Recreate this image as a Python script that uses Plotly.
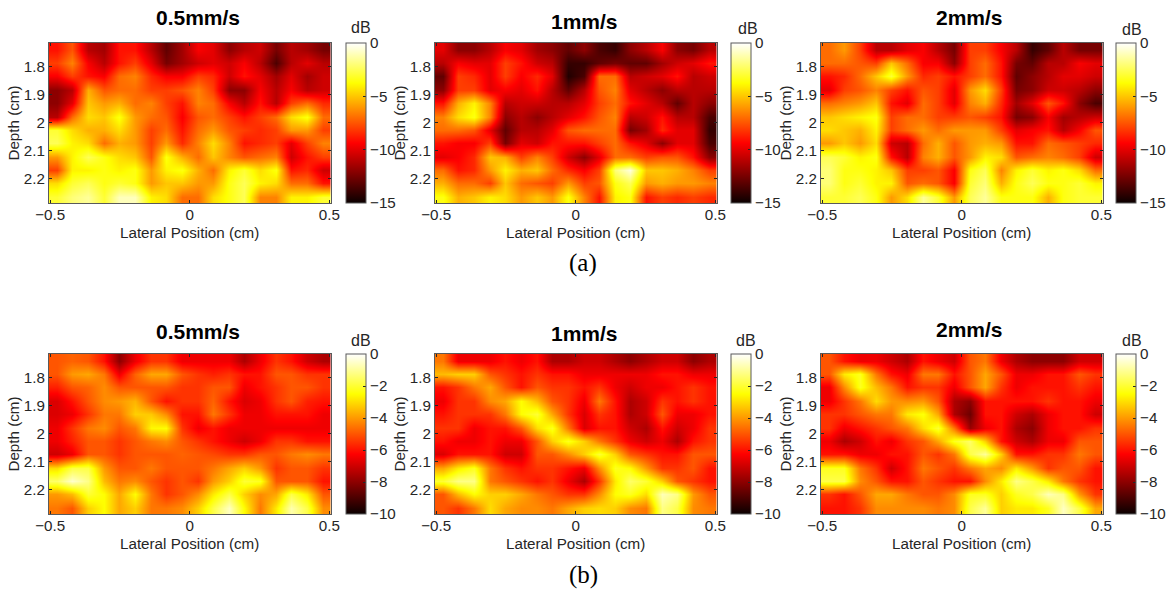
import plotly.graph_objects as go

W, H = 1171, 590

lateral = [-0.476, -0.42, -0.364, -0.308, -0.252, -0.196, -0.14, -0.084, -0.028,
           0.028, 0.084, 0.14, 0.196, 0.252, 0.308, 0.364, 0.42, 0.476]
depth = [1.738, 1.786, 1.834, 1.882, 1.93, 1.978, 2.026, 2.074, 2.122, 2.17, 2.218, 2.266]

x_tick_vals = [-0.5, 0, 0.5]
x_tick_text = ["\u22120.5", "0", "0.5"]
y_tick_vals = [1.8, 1.9, 2.0, 2.1, 2.2]
y_tick_text = ["1.8", "1.9", "2", "2.1", "2.2"]
titles = ["0.5mm/s", "1mm/s", "2mm/s"]
captions = ["(a)", "(b)"]

a_05 = [
 [-9,-7.5,-11,-11.5,-9,-9,-11,-13,-11.5,-9.5,-10,-12,-11,-10.5,-12.5,-11,-11.5,-12.5],
 [-8,-6.5,-9.5,-11,-9,-8,-10,-12.5,-11.5,-10.5,-10,-10.5,-9.5,-11,-13.5,-11,-10,-11],
 [-9.5,-8,-9,-9.5,-7,-6.5,-8.5,-9.5,-9.5,-8,-8.5,-10.5,-9,-10,-11.5,-10,-11.5,-10.5],
 [-12,-11,-5.5,-7.5,-7,-7,-8,-8,-7.5,-6.5,-8,-12,-12,-9.5,-11,-9.5,-11,-10.5],
 [-12,-10,-5,-6,-5.5,-7,-6.5,-8,-9,-6.5,-7,-9.5,-11,-9,-11,-8,-7,-8.5],
 [-11,-7,-4.5,-5,-3.5,-6,-7,-7.5,-9.5,-7.5,-7,-8,-9,-8,-7,-4.5,-3.5,-7],
 [-3,-4.5,-5.5,-5.5,-4.5,-6,-8,-7,-9,-7,-6,-7.5,-8,-8.5,-8,-6,-6,-8],
 [-2.5,-4,-4.5,-7,-5.5,-6,-8,-6,-8.5,-6.5,-4.5,-6.5,-9,-8.5,-8,-10,-8,-6.5],
 [-6,-4,-2.5,-3.5,-4.5,-5,-7.5,-3.5,-5.5,-7,-5,-6.5,-7.5,-7,-6.5,-10.5,-9,-8],
 [-8,-4,-4,-3.5,-4,-3.5,-6,-4,-3.5,-5.5,-7,-4,-3,-4.5,-3.5,-9,-8.5,-10.5],
 [-4.5,-3,-2.5,-3.5,-3,-3.5,-6,-5,-5,-6,-6,-3.5,-2.5,-4,-4.5,-7,-7,-9],
 [-3,-2,-1.5,-3,-1,-1,-4,-4.5,-7,-7,-4.5,-3.5,-2.5,-6.5,-6.5,-4,-4,-3],
]
a_1 = [
 [-10,-12,-12,-11,-9.5,-10,-11.5,-12,-13,-12,-13.5,-14,-12,-11,-9.5,-12,-12.5,-11],
 [-11,-9.5,-10,-10,-8,-9,-10.5,-11,-14,-14,-13,-12.5,-13,-13,-11.5,-10.5,-10,-9],
 [-13,-8,-8.5,-10,-8,-9.5,-8.5,-10,-14.5,-13.5,-7,-7,-11,-10.5,-10,-9,-11,-10.5],
 [-12,-8,-8,-10,-9.5,-10,-9,-11,-13,-11,-7.5,-6.5,-10,-11,-12,-11,-11,-11],
 [-9,-5.5,-4,-6.5,-11,-10.5,-10.5,-11,-11,-10,-8,-7,-9,-10,-11,-13,-11,-12],
 [-6.5,-4.5,-3.5,-6.5,-12,-11,-12,-11,-10,-9,-7.5,-6.5,-11,-10.5,-9,-11,-11,-13.5],
 [-7,-7,-7.5,-10,-13,-11,-11,-10,-7.5,-7,-7,-7,-12.5,-11.5,-8.5,-10,-10,-14],
 [-9,-9.5,-9.5,-8,-12.5,-10,-10.5,-9,-9,-9,-8,-7,-9,-10,-12,-10,-10,-13.5],
 [-10,-9.5,-8.5,-5,-5.5,-8,-6.5,-8,-10.5,-12,-10,-7,-7,-8,-7.5,-7.5,-9,-12],
 [-7,-9,-8.5,-6,-4,-5.5,-5,-7,-8.5,-9.5,-8,-2,-0.5,-5,-5,-5.5,-6.5,-8],
 [-5.5,-7,-7,-8,-5,-7,-7.5,-8,-6,-8,-7.5,-3.5,-2.5,-6,-5.5,-6,-6,-6.5],
 [-3.5,-5.5,-5,-4,-4.5,-6,-5,-6,-3.5,-6.5,-9,-4,-3.5,-9,-8,-8.5,-8,-8.5],
]
a_2 = [
 [-7,-6,-8,-11,-11,-10,-9.5,-11,-12.5,-8,-8,-9.5,-11,-14,-13,-11,-12.5,-12.5],
 [-7,-7,-7.5,-8,-5,-7,-9.5,-9.5,-12,-8,-7,-9,-12.5,-13,-11,-11,-9.5,-10],
 [-9,-8.5,-7,-5,-3,-6,-8.5,-8,-9,-8,-7,-9,-13,-12,-11,-10,-10,-10.5],
 [-10,-8,-7.5,-6.5,-8,-9,-7.5,-8,-10,-6,-4.5,-8,-12.5,-12,-10.5,-10.5,-11,-12],
 [-7,-6.5,-6,-5,-9,-10,-7,-8,-10,-6.5,-5.5,-8.5,-11.5,-10,-7.5,-9,-12,-13.5],
 [-5,-4.5,-4,-3.5,-8,-7,-7,-8,-8,-7.5,-8,-9,-12.5,-12,-9.5,-11.5,-11,-10.5],
 [-4.5,-5,-5.5,-4,-8,-7,-6,-7,-6,-6,-6,-8,-10,-9.5,-9,-11,-9.5,-7.5],
 [-6,-5,-6,-4.5,-10.5,-11,-7,-5.5,-7.5,-6,-5.5,-6,-9,-9,-7,-7.5,-8,-8.5],
 [-2.5,-3,-4,-3.5,-9,-11,-6.5,-5.5,-7.5,-6,-4,-4.5,-7.5,-7,-6.5,-7,-8,-10.5],
 [-2,-3.5,-3.5,-4,-5,-8,-8,-7.5,-9.5,-3.5,-2.5,-6.5,-4,-3,-4,-3.5,-4.5,-7],
 [-2,-3.5,-3,-4,-4,-7.5,-7,-7.5,-9.5,-3,-2,-5.5,-3.5,-2.5,-3.5,-3.5,-3,-4],
 [-3,-3,-2.5,-3.5,-6,-4.5,-1.5,-3,-6,-2.5,-1.5,-3.5,-3.5,-3.5,-5.5,-3.5,-3,-3],
]
b_05 = [
 [-5,-4.8,-5,-6,-8,-6.5,-5.5,-5.5,-6.5,-6.5,-6.5,-6.5,-7.5,-6.5,-5.5,-6,-7,-7.5],
 [-5,-4,-3.8,-4.5,-6.5,-4.8,-3.8,-3.8,-5,-5.5,-5.8,-5.5,-6,-6,-5,-5,-5.5,-5.5],
 [-5.8,-5,-4.8,-4.2,-5,-5,-5,-5,-5.5,-5.5,-5,-5,-6.5,-6,-5.5,-5,-5,-5.5],
 [-6.8,-6,-5,-4.2,-4,-3.6,-5,-6,-5.5,-5.5,-4.8,-6,-6.8,-6.5,-5.5,-5,-5.8,-6],
 [-6.8,-6.5,-5.5,-4.5,-4.5,-3.2,-3.3,-4.2,-6,-6,-4.5,-5.5,-6.5,-6.5,-6,-6,-6,-6.5],
 [-6.5,-5.5,-4.5,-4.2,-5,-4.5,-2.6,-2.5,-5.5,-6.5,-6,-6.5,-6.5,-6.5,-6.5,-6.5,-6.5,-6.5],
 [-6.5,-5.8,-5,-5,-5.5,-5,-4.5,-4.2,-5,-5.5,-6,-6.5,-7,-6.5,-5.5,-5.5,-6,-6],
 [-7,-6.5,-5,-5,-5.5,-5,-5,-5,-4.8,-5,-5.2,-5.5,-5.5,-5,-5,-4.5,-4.2,-4.5],
 [-3,-1.8,-1.8,-4,-5,-5,-4.5,-5,-5,-5,-4.5,-3.8,-3.2,-4,-5.5,-5,-5,-5.5],
 [-1.5,-0.5,-1.2,-3.5,-4.5,-4.2,-5,-5.5,-5,-5.5,-4,-3.2,-2,-2.2,-5,-5,-5,-6],
 [-4,-3.5,-2,-2.5,-3.8,-2.5,-4.5,-5.5,-5,-4.2,-2.8,-1.8,-3.2,-4.2,-3.8,-1.8,-2.8,-5],
 [-4.5,-5,-3.2,-2.5,-3.8,-3.2,-4.5,-4.5,-4.2,-3.2,-1.8,-0.6,-2.5,-4.5,-2.8,-0.8,-1.8,-4.2],
]
b_1 = [
 [-4.5,-6.5,-6.5,-6.5,-6,-6.5,-6,-7.5,-7.5,-7,-7,-7.5,-8,-7.5,-7,-7,-8,-7.5],
 [-3.5,-3.2,-3.2,-5,-5.5,-6,-5.5,-6,-6,-6.5,-6.5,-6.5,-6.5,-6.5,-6,-6,-6.5,-6.5],
 [-6,-5.5,-4.5,-3.8,-5,-6,-5,-5.5,-5.5,-6,-5.5,-6.5,-7,-6.5,-6.5,-6,-5.5,-6],
 [-6.5,-5.5,-5.5,-4.2,-3.8,-2.5,-3.5,-5,-5.5,-6.5,-4.5,-6,-7.5,-7,-5.5,-6,-5.5,-6],
 [-6,-5.5,-5.5,-5.5,-4.5,-2.5,-2,-3.8,-5.5,-6.8,-5.5,-6,-7.5,-7,-5,-6.5,-6.5,-6],
 [-5.5,-5.5,-6.5,-6,-6,-5,-3,-2.2,-4.5,-6.8,-6,-6,-7,-7.5,-6,-7,-6.5,-5.5],
 [-6,-6.5,-6.5,-6,-6.5,-6.5,-5,-3.2,-2.2,-3.2,-4.5,-5.5,-6.5,-7,-6.5,-7.5,-6,-5.5],
 [-6.8,-6,-6,-6,-7,-7,-5,-5,-4.2,-3.2,-2,-3.2,-5,-5.5,-6,-6,-5,-5],
 [-3.8,-2.8,-2.2,-4.5,-5.5,-6,-5.5,-5.5,-6,-6.5,-4.2,-2.2,-2.5,-4,-5.5,-5.5,-5,-6],
 [-2,-1.2,-1.2,-4.5,-5,-5.5,-6,-5.5,-6.5,-7.5,-5.5,-2.8,-1.5,-2,-3.2,-5,-5.5,-6],
 [-5,-3.5,-2.5,-3.2,-3.2,-3.8,-4.5,-5,-5.5,-5.5,-4.2,-2.5,-2.2,-3,-0.7,-1.2,-4,-5],
 [-5,-5.5,-4.5,-3,-3.8,-4.2,-4.2,-4.5,-3.8,-3.2,-3,-3.2,-4.2,-4.5,-1.2,-1.8,-4.2,-4.5],
]
b_2 = [
 [-5,-6,-6.5,-6.5,-7,-7.5,-6,-6.5,-7,-5,-4.5,-6.5,-7.5,-8,-8,-8,-7,-7],
 [-5,-2.8,-2.2,-4.5,-6,-6.5,-4.5,-4.5,-6,-5,-3.8,-5,-6.5,-6.5,-6,-6,-5,-5.5],
 [-6.5,-4.2,-2.2,-3.5,-4.5,-6,-5.5,-5.5,-6.5,-5,-3.8,-5.5,-6.5,-6,-6,-6,-5.5,-6],
 [-6.5,-5.5,-4.5,-3,-4,-4.2,-4,-5,-7.5,-8,-6,-6,-6,-6,-5.5,-6,-6,-6.5],
 [-5.5,-5.5,-5,-4.5,-4.5,-2.8,-2.4,-3.8,-7.5,-8.5,-6,-6,-7,-7.5,-6.5,-6,-6,-7],
 [-5.5,-6.5,-6,-5.5,-5,-4.5,-3,-2,-4.5,-7.8,-6.5,-6,-7.5,-8,-6.5,-6,-6,-5.5],
 [-6.5,-7.5,-7,-6,-6.5,-5.5,-5,-3.8,-2.2,-1.5,-3.2,-6,-7,-7.5,-6.5,-6.5,-5,-5],
 [-6,-6,-6.5,-6.5,-6,-6,-5,-5.5,-4.5,-1.8,-1,-3.2,-6,-6,-5.5,-5.5,-4.5,-5],
 [-2.2,-2.2,-4.5,-5.5,-7,-6,-4.5,-5,-5.5,-4.5,-3.8,-4.2,-2.8,-4,-5.5,-5,-5,-6],
 [-1.8,-1.8,-4.2,-5,-6,-6,-5,-5.5,-6,-6,-4.2,-2.8,-1.2,-1.8,-2.8,-4.5,-5.5,-6],
 [-5.5,-6,-5,-3.8,-3.8,-4.5,-5,-5,-4.2,-2.2,-2.2,-3.2,-2.2,-1.8,-0.7,-1.2,-4,-5.5],
 [-6,-6,-5.5,-4.2,-4.2,-4.2,-4.2,-4.5,-4.2,-1.8,-1,-3.2,-2.8,-2.8,-2.2,-0.6,-1.8,-3.8],
]

panels = [[a_05, a_1, a_2], [b_05, b_1, b_2]]
zmins = [-15, -10]
cb_dticks = [5, 2]

HOT = [[0, "#0a0000"], [0.375, "#ff0000"], [0.75, "#ffff00"], [1, "#ffffff"]]
SANS = "Liberation Sans, Arial, sans-serif"
INK = "#262626"
FRAME = "#5a5a5a"
FS = 15.2

col_left = [49, 435, 821]
panel_w = 281.5
panel_h = 160
row_top = [43, 354]
cb_left = [345.5, 731, 1116]
title_xy = [[(198, 18), (584, 22), (969, 18)], [(198, 331), (584, 333), (969, 329)]]
db_xy = [[(361, 27), (748, 28), (1132, 29)], [(361, 340), (746, 340), (1132, 340)]]
xlabel_y = [232, 543]
caption_y = [263, 575]

def px(x):
    return x / W

def py(y):
    return 1 - y / H

fig = go.Figure()
annotations = []
layout_axes = {}
n = 0
for r in range(2):
    for c in range(3):
        n += 1
        suffix = "" if n == 1 else str(n)
        fig.add_trace(go.Heatmap(
            x=lateral, y=depth, z=panels[r][c],
            xaxis="x" + suffix, yaxis="y" + suffix,
            zmin=zmins[r], zmax=0, zsmooth="best",
            colorscale=HOT,
            colorbar=dict(
                x=px(cb_left[c]), xanchor="left", xpad=0, ypad=0,
                y=py(row_top[r]), yanchor="top",
                lenmode="pixels", len=panel_h,
                thicknessmode="pixels", thickness=20,
                outlinecolor=FRAME, outlinewidth=1,
                ticks="inside", ticklen=3, tickcolor=INK, tickwidth=1,
                tick0=0, dtick=cb_dticks[r],
                tickfont=dict(family=SANS, size=FS, color=INK),
            ),
        ))
        axis_common = dict(
            showgrid=False, zeroline=False, showline=True, linecolor=FRAME, linewidth=1,
            mirror="ticks", ticks="inside", ticklen=3, tickcolor=INK, tickwidth=1,
            tickfont=dict(family=SANS, size=FS, color=INK),
        )
        layout_axes["xaxis" + suffix] = dict(
            domain=[px(col_left[c]), px(col_left[c] + panel_w)],
            anchor="y" + suffix, range=[-0.504, 0.504],
            tickmode="array", tickvals=x_tick_vals, ticktext=x_tick_text,
            ticklabelstandoff=-2,
            **axis_common,
        )
        layout_axes["yaxis" + suffix] = dict(
            domain=[py(row_top[r] + panel_h), py(row_top[r])],
            anchor="x" + suffix, range=[2.288, 1.714],
            tickmode="array", tickvals=y_tick_vals, ticktext=y_tick_text,
            title=dict(text="Depth (cm)", standoff=0,
                       font=dict(family=SANS, size=FS, color=INK)),
            **axis_common,
        )
        annotations.append(dict(
            text="Lateral Position (cm)", x=px(col_left[c] + panel_w / 2), y=py(xlabel_y[r]),
            xref="paper", yref="paper", xanchor="center", yanchor="middle", showarrow=False,
            font=dict(family=SANS, size=FS, color=INK),
        ))
        tx, ty = title_xy[r][c]
        annotations.append(dict(
            text="<b>%s</b>" % titles[c], x=px(tx), y=py(ty), xref="paper", yref="paper",
            xanchor="center", yanchor="middle", showarrow=False,
            font=dict(family=SANS, size=21, color="black"),
        ))
        dx, dy = db_xy[r][c]
        annotations.append(dict(
            text="dB", x=px(dx), y=py(dy), xref="paper", yref="paper",
            xanchor="center", yanchor="middle", showarrow=False,
            font=dict(family=SANS, size=16, color=INK),
        ))
    annotations.append(dict(
        text=captions[r], x=px(583), y=py(caption_y[r]), xref="paper", yref="paper",
        xanchor="center", yanchor="middle", showarrow=False,
        font=dict(family="Liberation Serif, Times New Roman, serif", size=25, color="black"),
    ))

fig.update_layout(
    width=W, height=H, autosize=False,
    margin=dict(l=0, r=0, t=0, b=0, autoexpand=False),
    paper_bgcolor="white", plot_bgcolor="white",
    annotations=annotations,
    **layout_axes,
)

fig.write_html("out.html", config={"displayModeBar": False},
               post_script="document.body.style.margin='0';document.body.style.overflow='hidden';")
